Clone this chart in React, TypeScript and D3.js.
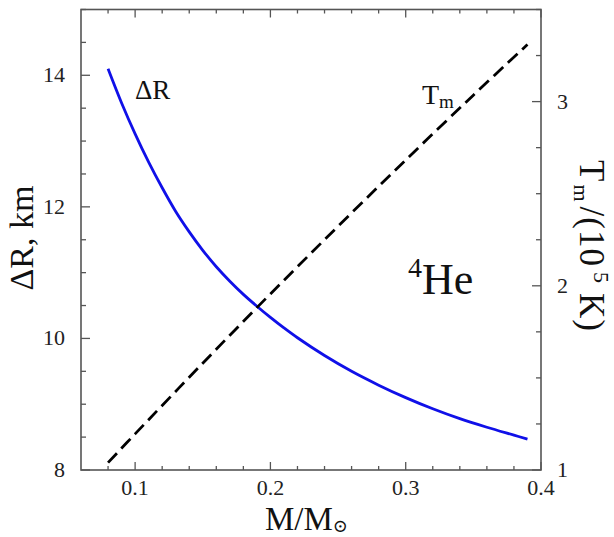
import React from 'react';
import * as d3 from 'd3';

// mass values M/Msun
const massR = [0.08, 0.09, 0.1, 0.11, 0.12, 0.13, 0.14, 0.15, 0.16, 0.17, 0.18, 0.19, 0.2, 0.21, 0.22, 0.24, 0.26, 0.28, 0.3, 0.32, 0.34, 0.36, 0.38, 0.39];
// Delta R, km
const deltaR = [14.1, 13.58, 13.11, 12.68, 12.29, 11.93, 11.62, 11.34, 11.09, 10.87, 10.67, 10.49, 10.32, 10.16, 10.01, 9.74, 9.5, 9.29, 9.1, 8.93, 8.78, 8.65, 8.53, 8.47];

const massT = [0.08, 0.1, 0.15, 0.2, 0.25, 0.3, 0.35, 0.39];
// T_m / 1e5 K
const tempM = [1.04, 1.196, 1.58, 1.956, 2.323, 2.683, 3.035, 3.31];

const xTicks = [0.1, 0.2, 0.3, 0.4];
const yLeftTicks = [8, 10, 12, 14];
const yRightTicks = [1, 2, 3];

const W = 614;
const H = 537;
const m = { left: 81, right: 541, top: 9.5, bottom: 470 };
const serif = { fontFamily: "Liberation Serif, DejaVu Serif, Times New Roman, Times, Noto Serif, FreeSerif, serif" };
const axisColor = '#555';

export default function App() {
  const x = d3.scaleLinear().domain([0.06, 0.4]).range([m.left, m.right]);
  const yL = d3.scaleLinear().domain([8, 15]).range([m.bottom, m.top]);
  const yR = d3.scaleLinear().domain([1, 3.5]).range([m.bottom, m.top]);

  const lineR = d3.line<number>().x((d, i) => x(massR[i])).y(d => yL(d)).curve(d3.curveCatmullRom);
  const lineT = d3.line<number>().x((d, i) => x(massT[i])).y(d => yR(d)).curve(d3.curveCatmullRom);

  const xMinor = d3.range(0.08, 0.4001, 0.02).map(v => +v.toFixed(2));
  const yLMinor = d3.range(8, 15.001, 0.5);
  const yRMinor = d3.range(1, 3.5001, 0.25);
  const isMajor = (v: number, step: number) => Math.abs(v / step - Math.round(v / step)) < 1e-6;

  return (
    <svg width={W} height={H} style={{ position: 'absolute', left: 0, top: 0, ...serif }}>
      <rect width={W} height={H} fill="#fff" />
      {/* ticks */}
      <g stroke={axisColor} strokeWidth={1.3}>
        {xMinor.map(v => {
          const len = isMajor(v, 0.1) ? 8 : 4;
          return (
            <g key={'x' + v}>
              <line x1={x(v)} x2={x(v)} y1={m.bottom} y2={m.bottom - len} />
              <line x1={x(v)} x2={x(v)} y1={m.top} y2={m.top + len} />
            </g>
          );
        })}
        {yLMinor.map(v => (
          <line key={'yl' + v} x1={m.left} x2={m.left + (isMajor(v, 2) ? 9 : 5)} y1={yL(v)} y2={yL(v)} />
        ))}
        {yRMinor.map(v => (
          <line key={'yr' + v} x1={m.right} x2={m.right - (isMajor(v, 1) ? 9 : 5)} y1={yR(v)} y2={yR(v)} />
        ))}
      </g>
      <rect x={m.left} y={m.top} width={m.right - m.left} height={m.bottom - m.top} fill="none" stroke={axisColor} strokeWidth={1.6} />

      {/* curves */}
      <path d={lineR(deltaR) || ''} fill="none" stroke="#1010e8" strokeWidth={2.8} />
      <path d={lineT(tempM) || ''} fill="none" stroke="#000" strokeWidth={2.8} strokeDasharray="13,6.5" />

      {/* tick labels */}
      <g fontSize={22} fill="#222">
        {xTicks.map(v => (
          <text key={'xt' + v} style={serif} x={x(v)} y={495} textAnchor="middle">{v.toFixed(1)}</text>
        ))}
        {yLeftTicks.map(v => (
          <text key={'ylt' + v} style={serif} x={65} y={yL(v) + 7} textAnchor="end">{v}</text>
        ))}
        {yRightTicks.map(v => (
          <text key={'yrt' + v} style={serif} x={557} y={yR(v) + 7} textAnchor="start">{v}</text>
        ))}
      </g>

      {/* axis titles */}
      <text style={serif} x={265} y={530} fontSize={33} fill="#111">
        M/M<tspan fontSize={18} dy={2}>⊙</tspan>
      </text>
      <text style={serif} transform={`translate(33,238) rotate(-90)`} fontSize={34} textAnchor="middle" fill="#111">ΔR, km</text>
      <text style={serif} transform={`translate(580,160) rotate(90)`} fontSize={35} fill="#111" letterSpacing={1}>
        T<tspan fontSize={22} dy={6} dx={2}>m</tspan><tspan dy={-6} dx={4}>/(10</tspan><tspan fontSize={22} dy={-14} dx={5}>5</tspan><tspan dy={14} dx={9}>K)</tspan>
      </text>

      {/* annotations */}
      <text style={serif} x={135} y={99} fontSize={27} fill="#111">ΔR</text>
      <text style={serif} x={422} y={104} fontSize={28} fill="#111">
        T<tspan fontSize={19} dy={4}>m</tspan>
      </text>
      <text style={serif} x={408} y={294} fontSize={44} fill="#111">
        <tspan fontSize={28} dy={-17}>4</tspan><tspan dy={17}>He</tspan>
      </text>
    </svg>
  );
}
